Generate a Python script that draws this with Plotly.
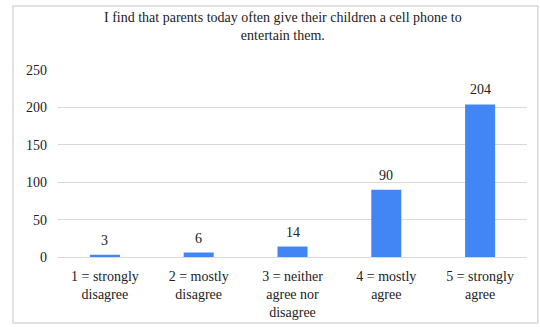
import plotly.graph_objects as go

categories = [
    "1 = strongly<br>disagree",
    "2 = mostly<br>disagree",
    "3 = neither<br>agree nor<br>disagree",
    "4 = mostly<br>agree",
    "5 = strongly<br>agree",
]
counts = [3, 6, 14, 90, 204]
y_ticks = [0, 50, 100, 150, 200, 250]
title_text = "I find that parents today often give their children a cell phone to<br>entertain them."

FONT = "Liberation Serif"
BAR_COLOR = "#4285F4"
GRID_COLOR = "#d9d9d9"
TEXT_COLOR = "#222222"

fig = go.Figure(
    go.Bar(
        x=categories,
        y=counts,
        marker=dict(color=BAR_COLOR, line=dict(width=0)),
        cliponaxis=False,
        width=0.32,
    )
)

# value labels sitting above each bar
value_labels = [
    dict(
        x=cat,
        y=val,
        xref="x",
        yref="y",
        text=str(val),
        showarrow=False,
        xanchor="center",
        yanchor="bottom",
        yshift=5,
        font=dict(family=FONT, size=14, color=TEXT_COLOR),
    )
    for cat, val in zip(categories, counts)
]

fig.update_layout(
    width=540,
    height=327,
    margin=dict(l=58, r=13, t=70, b=70, autoexpand=False),
    paper_bgcolor="white",
    plot_bgcolor="white",
    font=dict(family=FONT, size=14, color=TEXT_COLOR),
    showlegend=False,
    xaxis=dict(
        automargin=False,
        showgrid=False,
        showline=True,
        linecolor=GRID_COLOR,
        linewidth=1,
        ticks="",
        ticklabelstandoff=6,
        tickfont=dict(family=FONT, size=14, color=TEXT_COLOR),
    ),
    yaxis=dict(
        automargin=False,
        range=[0, 250],
        tickvals=y_ticks,
        showgrid=True,
        gridcolor=GRID_COLOR,
        gridwidth=1,
        zeroline=False,
        showline=False,
        ticks="",
        ticklabelstandoff=10,
        tickfont=dict(family=FONT, size=14, color=TEXT_COLOR),
    ),
    annotations=[
        dict(
            text=title_text,
            xref="paper",
            yref="paper",
            x=0.48,
            y=1.33,
            xanchor="center",
            yanchor="top",
            showarrow=False,
            align="center",
            font=dict(family=FONT, size=14, color=TEXT_COLOR),
        )
    ] + value_labels,
    shapes=[
        dict(
            type="rect",
            xref="paper",
            yref="paper",
            x0=-0.096,
            x1=1.023,
            y0=-0.353,
            y1=1.342,
            line=dict(color=GRID_COLOR, width=1.5),
            fillcolor="rgba(0,0,0,0)",
            layer="below",
        )
    ],
)

fig.write_html("out.html")
